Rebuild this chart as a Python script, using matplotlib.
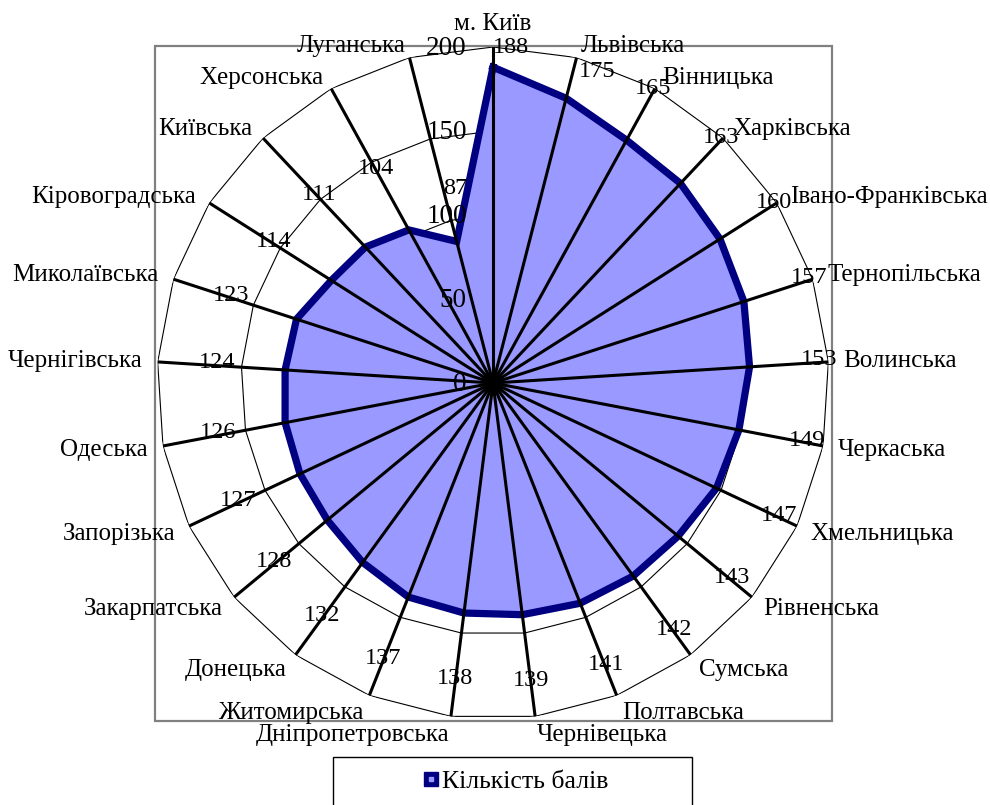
import numpy as np
import matplotlib
matplotlib.use("Agg")
import matplotlib.pyplot as plt
from matplotlib.patches import Rectangle
from matplotlib.lines import Line2D

plt.rcParams['font.family'] = ['Liberation Serif', 'DejaVu Serif']

# дані: кількість балів по регіонах
regions = ['м. Київ', 'Львівська', 'Вінницька', 'Харківська', 'Івано-Франківська',
           'Тернопільська', 'Волинська', 'Черкаська', 'Хмельницька', 'Рівненська',
           'Сумська', 'Полтавська', 'Чернівецька', 'Дніпропетровська', 'Житомирська',
           'Донецька', 'Закарпатська', 'Запорізька', 'Одеська', 'Чернігівська',
           'Миколаївська', 'Кіровоградська', 'Київська', 'Херсонська', 'Луганська']
scores = [188, 175, 165, 163, 160, 157, 153, 149, 147, 143, 142, 141, 139,
          138, 137, 132, 128, 127, 126, 124, 123, 114, 111, 104, 87]
r_ticks = [0, 50, 100, 150, 200]
series_name = 'Кількість балів'

n = len(regions)
theta = np.deg2rad(np.arange(n) * 360.0 / n)
vals = np.array(scores, dtype=float)
rmax = r_ticks[-1]

fig = plt.figure(figsize=(9.9, 8.05), dpi=100)
ax = fig.add_axes([0.1586, 0.1068, 0.6788, 0.8348], projection='polar')
ax.set_theta_zero_location('N')
ax.set_theta_direction(-1)
ax.set_ylim(0, rmax)
ax.set_axis_off()

th_closed = np.append(theta, theta[0])

# полігональна сітка
for t in r_ticks[1:]:
    ax.plot(th_closed, np.full(n + 1, t), color='black', lw=0.8, zorder=1)

# заливка та контур ряду
ax.fill(th_closed, np.append(vals, vals[0]), color='#9999FF', zorder=2)
ax.plot(th_closed, np.append(vals, vals[0]), color='#000080', lw=5.2,
        solid_joinstyle='miter', zorder=3)

# промені
for th in theta:
    ax.plot([th, th], [0, rmax], color='black', lw=2.2, zorder=4)

# підписи осі значень
for t in r_ticks:
    ax.annotate(str(t), xy=(0, t), xytext=(-19, -1), textcoords='offset points',
                ha='right', va='center', fontsize=19.5, zorder=6, annotation_clip=False)

# підписи даних (біля верхнього краю зсунуті праворуч, як в Excel)
lab_r = np.minimum(vals * 1.03 + 37, 198)
for th, v, lr in zip(theta, scores, lab_r):
    top = np.cos(th) > 0.95
    off = (2, -8) if top and th > 0 else (0, 2)
    ax.annotate(str(v), xy=(th, lr), xytext=off,
                textcoords='offset points', ha='left' if top else 'center',
                va='center', fontsize=17.5, zorder=6, annotation_clip=False)

# підписи категорій
for th, name in zip(theta, regions):
    s, c = np.sin(th), np.cos(th)
    if s > 0.05:
        ha = 'left'
    elif s < -0.05:
        ha = 'right'
    else:
        ha = 'center'
    va = 'bottom' if c > 0.99 else 'center'
    dx = 11 * s
    dy = 8.6 * c if c > 0 else 13.7 * c
    ax.annotate(name, xy=(th, rmax), xytext=(dx, dy), textcoords='offset points',
                ha=ha, va=va, fontsize=18, zorder=6, annotation_clip=False)

# рамка області побудови
fig.add_artist(Rectangle((0.1566, 0.1043), 0.6838, 0.8385, transform=fig.transFigure,
                         fill=False, ec='#808080', lw=1.6, zorder=-1))

# легенда
fig.add_artist(Rectangle((0.3364, -0.002), 0.3626, 0.0622, transform=fig.transFigure,
                         fill=False, ec='black', lw=1.0, zorder=-1))
h_outer = Line2D([], [], ls='none', marker='s', markersize=10.5,
                 markerfacecolor='#000080', markeredgecolor='#000080')
h_inner = Line2D([], [], ls='none', marker='s', markersize=3,
                 markerfacecolor='#9999FF', markeredgecolor='#9999FF')
fig.legend([(h_outer, h_inner)], [series_name], loc='center',
           bbox_to_anchor=(0.521, 0.0298), frameon=False, fontsize=18.5,
           handlelength=0.65, handletextpad=0.1, borderpad=0)

fig.savefig('out.png', dpi=100)
